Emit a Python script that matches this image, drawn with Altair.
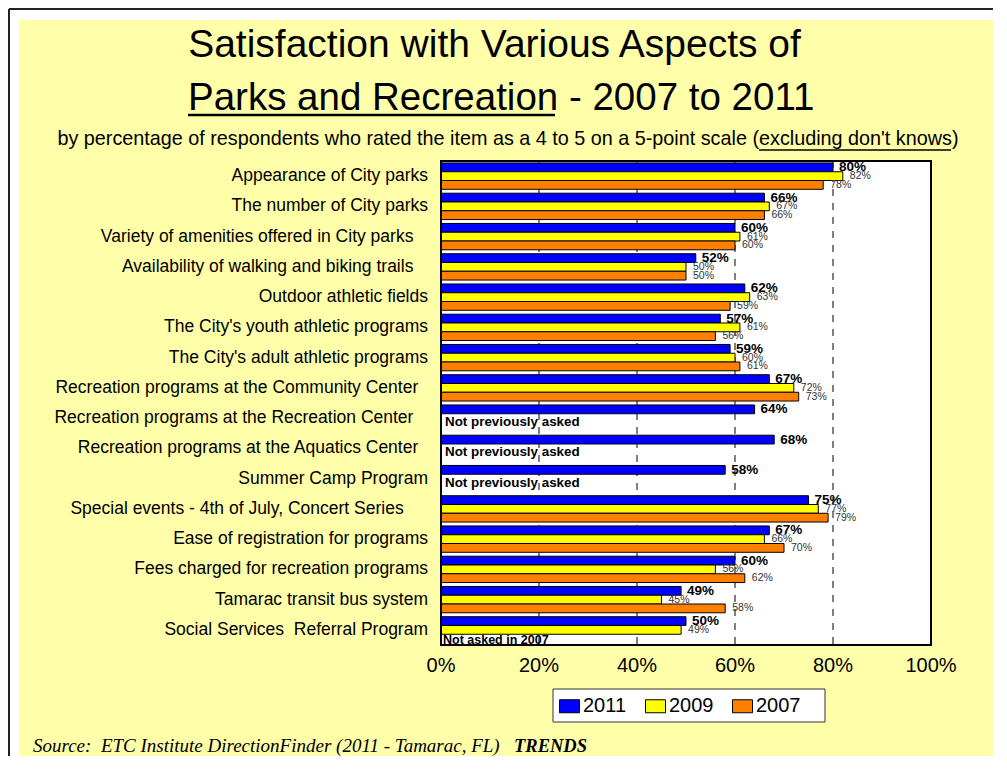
import altair as alt
import pandas as pd

NB = "\u00a0"
ZW = "\u200b"  # keeps trailing no-break spaces from being trimmed
categories = [
    "Appearance of City parks",
    "The number of City parks",
    "Variety of amenities offered in City parks" + NB * 3 + ZW,
    "Availability of walking and biking trails" + NB * 3 + ZW,
    "Outdoor athletic fields",
    "The City's youth athletic programs",
    "The City's adult athletic programs",
    "Recreation programs at the Community Center" + NB * 2 + ZW,
    "Recreation programs at the Recreation Center" + NB * 3 + ZW,
    "Recreation programs at the Aquatics Center" + NB * 2 + ZW,
    "Summer Camp Program",
    "Special events - 4th of July, Concert Series" + NB * 5 + ZW,
    "Ease of registration for programs",
    "Fees charged for recreation programs",
    "Tamarac transit bus system",
    "Social Services " + NB + "Referral Program",
]
years = ["2011", "2009", "2007"]
colors = ["#0000FF", "#FFFF00", "#FF8000"]
v2011 = [80, 66, 60, 52, 62, 57, 59, 67, 64, 68, 58, 75, 67, 60, 49, 50]
v2009 = [82, 67, 61, 50, 63, 61, 60, 72, None, None, None, 77, 66, 56, 45, 49]
v2007 = [78, 66, 60, 50, 59, 56, 61, 73, None, None, None, 79, 70, 62, 58, None]
x_ticks = [0, 20, 40, 60, 80, 100]
x_tick_labels = ["0%", "20%", "40%", "60%", "80%", "100%"]
grid_values = [20, 40, 60, 80]
note_categories = [categories[8], categories[9], categories[10], categories[15]]
note_years = ["2009", "2009", "2009", "2007"]
note_texts = ["Not previously asked", "Not previously asked", "Not previously asked", "Not asked in 2007"]

title_line1 = "Satisfaction with Various Aspects of"
title_line2 = "Parks and Recreation - 2007 to 2011"
subtitle_a = "by percentage of respondents who rated the item as a 4 to 5 on a 5-point scale ("
subtitle_b = "excluding don't knows)"
source_text = "Source:" + NB + " ETC Institute DirectionFinder (2011 - Tamarac, FL)"
source_bold = "TRENDS"

SANS = "Liberation Sans"
SERIF = "Liberation Serif"
YELLOW = "#FFFFAA"

W, H = 490, 484

rows = []
for i, c in enumerate(categories):
    for yr, vals in zip(years, [v2011, v2009, v2007]):
        v = vals[i]
        if v is not None:
            rows.append({"category": c, "year": yr, "value": v, "label": f"{v}%"})
df = pd.DataFrame(rows)
df_main = df[df.year == "2011"]
df_other = df[df.year != "2011"]
notes = pd.DataFrame({"category": note_categories, "year": note_years, "text": note_texts})
notes_prev = notes[notes.year == "2009"]
notes_07 = notes[notes.year == "2007"]
cat_df = pd.DataFrame({"category": categories})
tick_df = pd.DataFrame({"t": x_ticks, "lab": x_tick_labels})

xs = alt.Scale(domain=[0, 100], nice=False, zero=True)
ys = alt.Scale(domain=categories, paddingInner=0.13, paddingOuter=0.065)
yos = alt.Scale(domain=years, paddingInner=0, paddingOuter=0)


def Y():
    return alt.Y("category:N", sort=categories, scale=ys, axis=None)


def YO():
    return alt.YOffset("year:N", sort=years, scale=yos)


one = pd.DataFrame({"a": [0]})

# white page margins around the yellow panel, and the page frame
white_left = alt.Chart(one).mark_rect(fill="white").encode(
    x=alt.value(-433), x2=alt.value(-422), y=alt.value(-153), y2=alt.value(600))
white_top = alt.Chart(one).mark_rect(fill="white").encode(
    x=alt.value(-433), x2=alt.value(560), y=alt.value(-153), y2=alt.value(-141))
frame = alt.Chart(one).mark_rule(color="#222", strokeWidth=2).encode(
    x=alt.value(-432), x2=alt.value(560), y=alt.value(-152))
frame_left = alt.Chart(one).mark_rule(color="#222", strokeWidth=2).encode(
    x=alt.value(-432), y=alt.value(-152), y2=alt.value(600))

plot_bg = alt.Chart(one).mark_rect(fill="white").encode(
    x=alt.X(datum=0, scale=xs, axis=None), x2=alt.X2(datum=100))
grid = alt.Chart(pd.DataFrame({"g": grid_values})).mark_rule(
    color="black", strokeDash=[7, 7], strokeWidth=1).encode(x=alt.X("g:Q", scale=xs, axis=None))

bars = alt.Chart(df).mark_bar(stroke="black", strokeWidth=1).encode(
    x=alt.X("value:Q", scale=xs, axis=None),
    y=Y(),
    yOffset=YO(),
    color=alt.Color("year:N", sort=years, scale=alt.Scale(domain=years, range=colors),
                    legend=alt.Legend(title=None, orient="none", legendX=118, legendY=534.5,
                                      direction="horizontal", symbolType="M-1,-0.65H1V0.65H-1Z",
                                      symbolSize=400, symbolStrokeColor="black", symbolStrokeWidth=1,
                                      symbolOpacity=1, labelFontSize=20, labelFont=SANS,
                                      labelColor="black", labelOffset=3, columnPadding=16, padding=0)),
)

# category labels (left) and percentage tick labels (bottom), placed through the scales
y_labels = alt.Chart(cat_df).mark_text(
    align="right", baseline="middle", dx=-13, font=SANS, fontSize=17.5, color="black"
).encode(x=alt.X(datum=0, scale=xs, axis=None), y=Y(), text="category:N")
x_labels = alt.Chart(tick_df).mark_text(
    align="center", baseline="top", dy=11, font=SANS, fontSize=20, color="black"
).encode(x=alt.X("t:Q", scale=xs, axis=None), y=alt.value(H), text="lab:N")

lab_main = alt.Chart(df_main).mark_text(
    align="left", baseline="middle", dx=6, font=SANS, fontSize=13.5, fontWeight="bold", color="black"
).encode(x=alt.X("value:Q", scale=xs, axis=None), y=Y(), yOffset=YO(), text="label:N")

lab_other = alt.Chart(df_other).mark_text(
    align="left", baseline="middle", dx=7, font=SANS, fontSize=10.5, color="#333"
).encode(x=alt.X("value:Q", scale=xs, axis=None), y=Y(), yOffset=YO(), text="label:N")

note_prev = alt.Chart(notes_prev).mark_text(
    align="left", baseline="middle", dx=4, dy=4, font=SANS, fontSize=13.4, fontWeight="bold", color="black"
).encode(x=alt.X(datum=0, scale=xs, axis=None), y=Y(), yOffset=YO(), text="text:N")

note_07 = alt.Chart(notes_07).mark_text(
    align="left", baseline="middle", dx=2, dy=1.5, font=SANS, fontSize=12.5, fontWeight="bold", color="black"
).encode(x=alt.X(datum=0, scale=xs, axis=None), y=Y(), yOffset=YO(), text="text:N")

border = alt.Chart(one).mark_rect(fillOpacity=0, stroke="black", strokeWidth=2).encode(
    x=alt.X(datum=0, scale=xs, axis=None), x2=alt.X2(datum=100))

legend_box = alt.Chart(one).mark_rect(fill="white", stroke="#333", strokeWidth=1).encode(
    x=alt.value(112), x2=alt.value(384), y=alt.value(528), y2=alt.value(561))

t1 = alt.Chart(pd.DataFrame({"t": [title_line1]})).mark_text(
    font=SANS, fontSize=39, align="center", baseline="alphabetic", color="black"
).encode(x=alt.value(53.5), y=alt.value(-104), text="t:N")
t2 = alt.Chart(pd.DataFrame({"t": [title_line2]})).mark_text(
    font=SANS, fontSize=38.5, align="left", baseline="alphabetic", color="black"
).encode(x=alt.value(-253), y=alt.value(-51), text="t:N")
t2_ul = alt.Chart(one).mark_rule(color="black", strokeWidth=2.5).encode(
    x=alt.value(-253), x2=alt.value(114), y=alt.value(-46))
st_a = alt.Chart(pd.DataFrame({"t": [subtitle_a]})).mark_text(
    font=SANS, fontSize=19.8, align="right", baseline="alphabetic", color="black"
).encode(x=alt.value(318), y=alt.value(-16.5), text="t:N")
st_b = alt.Chart(pd.DataFrame({"t": [subtitle_b]})).mark_text(
    font=SANS, fontSize=19.8, align="left", baseline="alphabetic", color="black"
).encode(x=alt.value(318), y=alt.value(-16.5), text="t:N")
st_ul = alt.Chart(one).mark_rule(color="black", strokeWidth=1.5).encode(
    x=alt.value(318), x2=alt.value(510), y=alt.value(-11))
src = alt.Chart(pd.DataFrame({"t": [source_text]})).mark_text(
    font=SERIF, fontSize=19, fontStyle="italic", align="left", baseline="alphabetic", color="black"
).encode(x=alt.value(-408), y=alt.value(591), text="t:N")
src_b = alt.Chart(pd.DataFrame({"t": [source_bold]})).mark_text(
    font=SERIF, fontSize=18.5, fontStyle="italic", fontWeight="bold", align="left",
    baseline="alphabetic", color="black"
).encode(x=alt.value(73), y=alt.value(591), text="t:N")

chart = alt.layer(
    white_left, white_top, frame, frame_left, plot_bg, grid, bars, y_labels, x_labels, lab_main,
    lab_other, note_prev, note_07, border, legend_box, t1, t2, t2_ul, st_a, st_b, st_ul, src, src_b
).properties(
    width=W, height=H,
    autosize=alt.AutoSizeParams(type="none"),
    padding={"left": 433, "top": 153, "right": 62, "bottom": 111},
    background=YELLOW,
).configure_view(stroke=None)

chart.save("out.html", embed_options={"renderer": "svg", "actions": False})
